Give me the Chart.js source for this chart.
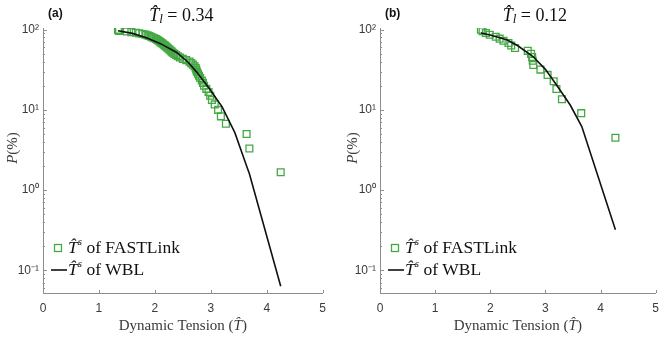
<!DOCTYPE html>
<html>
<head>
<meta charset="utf-8">
<script src="https://cdn.jsdelivr.net/npm/chart.js@4/dist/chart.umd.min.js"></script>
<style>
body { margin: 0; background: #fff; width: 667px; height: 337px; overflow: hidden; position: relative; }
canvas { position: absolute; top: 0; }
</style>
</head>
<body>
<canvas id="chartA" width="334" height="337" style="left:0"></canvas>
<canvas id="chartB" width="327" height="337" style="left:340px"></canvas>
<script>
// panel (a), T_l = 0.34 : FASTLink samples (tension, exceedance %)
const tensionA = [1.34, 1.35, 1.36, 1.50, 1.58, 1.66, 1.72, 1.78, 1.83, 1.87, 1.90, 1.93,
  1.96, 1.99, 2.02, 2.04, 2.06, 2.08, 2.10, 2.12, 2.14, 2.16, 2.18, 2.20,
  2.22, 2.24, 2.26, 2.28, 2.30, 2.32, 2.35, 2.38, 2.41, 2.45, 2.50, 2.56,
  2.62, 2.65, 2.68, 2.71, 2.73, 2.74, 2.75, 2.77, 2.79, 2.81, 2.84, 2.86,
  2.88, 2.92, 2.96, 2.99, 3.02, 3.07, 3.13, 3.18, 3.27, 3.64, 3.69, 4.25];
const probA = [100, 98.3, 96.7, 95, 93.3, 91.7, 90, 88.3, 86.7, 85, 83.3, 81.7,
  80, 78.3, 76.7, 75, 73.3, 71.7, 70, 68.3, 66.7, 65, 63.3, 61.7,
  60, 58.3, 56.7, 55, 53.3, 51.7, 50, 48.3, 46.7, 45, 43.3, 41.7,
  40, 38.3, 36.7, 35, 33.3, 31.7, 30, 28.3, 26.7, 25, 23.3, 21.7,
  20, 18.3, 16.7, 15, 13.3, 11.7, 10, 8.3, 6.7, 5, 3.3, 1.67];
// panel (a) WBL fit
const wblTensionA = [1.34, 1.60, 1.86, 2.10, 2.39, 2.60, 2.74, 2.96, 3.20, 3.43, 3.64, 3.69, 4.25];
const wblProbA = [97, 90, 79, 67, 52, 39, 30, 19, 11, 5.2, 2.0, 1.6, 0.063];

// panel (b), T_l = 0.12
const tensionB = [1.83, 1.86, 1.92, 1.99, 2.10, 2.17, 2.24, 2.33, 2.38, 2.45, 2.68,
  2.74, 2.76, 2.77, 2.78, 2.91, 3.04, 3.15, 3.20, 3.30, 3.65, 4.27];
const probB = [100, 95.5, 90.9, 86.4, 81.8, 77.3, 72.7, 68.2, 63.6, 59.1, 54.5,
  50, 45.5, 40.9, 36.4, 31.8, 27.3, 22.7, 18.2, 13.6, 9.1, 4.5];
const wblTensionB = [1.83, 2.00, 2.30, 2.50, 2.78, 3.00, 3.19, 3.45, 3.66, 4.27];
const wblProbB = [91, 86, 75, 63, 46, 32, 21, 11.5, 6.2, 0.32];

const xTicks = [0, 1, 2, 3, 4, 5];
const yTicks = [0.1, 1, 10, 100];
const yTickLabels = ['10⁻¹', '10⁰', '10¹', '10²'];

const axisGray = '#8c8c8c';
const textGray = '#3a3a3a';
const green = '#45a845';

// draw a run of text pieces with different fonts, centred or left aligned
function drawParts(ctx, parts, x, y, align) {
  let w = 0;
  parts.forEach(p => { ctx.font = p.font; w += ctx.measureText(p.t).width; });
  let cx = align === 'center' ? x - w / 2 : x;
  ctx.textBaseline = 'middle';
  ctx.textAlign = 'left';
  parts.forEach(p => {
    ctx.font = p.font;
    ctx.fillText(p.t, cx, y + (p.dy || 0));
    cx += ctx.measureText(p.t).width;
  });
}

const decor = {
  id: 'decor',
  afterDraw(chart, args, opts) {
    const { ctx, chartArea: a, scales: { x, y } } = chart;
    ctx.save();

    // inward tick marks
    ctx.strokeStyle = axisGray;
    ctx.lineWidth = 1;
    ctx.beginPath();
    xTicks.forEach(v => {
      const px = Math.round(x.getPixelForValue(v)) + 0.5;
      ctx.moveTo(px, a.bottom);
      ctx.lineTo(px, a.bottom - 3);
    });
    for (let e = -2; e <= 2; e++) {
      for (let k = 1; k < 10; k++) {
        const v = k * Math.pow(10, e);
        if (v < y.min || v > y.max) continue;
        const py = Math.round(y.getPixelForValue(v)) + 0.5;
        ctx.moveTo(a.left, py);
        ctx.lineTo(a.left + (k === 1 ? 4 : 2), py);
      }
    }
    ctx.stroke();

    ctx.fillStyle = '#111';
    // panel letter
    ctx.font = 'bold 12px "Liberation Sans"';
    ctx.textAlign = 'left';
    ctx.textBaseline = 'middle';
    ctx.fillText(opts.letter, a.left + 5, 14);

    // title
    const cx = (a.left + a.right) / 2 + opts.titleShift;
    drawParts(ctx, [
      { t: 'T̂', font: 'italic 18px "Liberation Serif"' },
      { t: 'l', font: 'italic 13px "Liberation Serif"', dy: 4 },
      { t: ' = ' + opts.tl, font: '18px "Liberation Serif"' }
    ], cx, 16, 'center');

    // axis titles
    ctx.fillStyle = textGray;
    drawParts(ctx, [
      { t: 'Dynamic Tension (', font: '15px "Liberation Serif"' },
      { t: 'T̂', font: 'italic 15px "Liberation Serif"' },
      { t: ')', font: '15px "Liberation Serif"' }
    ], (a.left + a.right) / 2, 326, 'center');
    ctx.save();
    ctx.translate(opts.yTitleX, 148);
    ctx.rotate(-Math.PI / 2);
    drawParts(ctx, [
      { t: 'P', font: 'italic 15px "Liberation Serif"' },
      { t: '(%)', font: '15px "Liberation Serif"' }
    ], 0, 0, 'center');
    ctx.restore();

    // legend
    const r1 = a.bottom - 45, r2 = a.bottom - 23;
    ctx.strokeStyle = green;
    ctx.lineWidth = 1.3;
    ctx.strokeRect(a.left + 15 - 3.5, r1 - 3.5, 7, 7);
    ctx.strokeStyle = '#111';
    ctx.lineWidth = 1.6;
    ctx.beginPath();
    ctx.moveTo(a.left + 8, r2);
    ctx.lineTo(a.left + 24, r2);
    ctx.stroke();
    ctx.fillStyle = '#111';
    drawParts(ctx, [
      { t: 'T̂', font: 'italic 17.5px "Liberation Serif"' },
      { t: 's', font: 'italic 11px "Liberation Serif"', dy: -6 },
      { t: ' of FASTLink', font: '17.5px "Liberation Serif"' }
    ], a.left + 25, r1, 'left');
    drawParts(ctx, [
      { t: 'T̂', font: 'italic 17.5px "Liberation Serif"' },
      { t: 's', font: 'italic 11px "Liberation Serif"', dy: -6 },
      { t: ' of WBL', font: '17.5px "Liberation Serif"' }
    ], a.left + 25, r2, 'left');

    ctx.restore();
  }
};

function makeChart(id, tension, prob, wblT, wblP, cfg) {
  return new Chart(document.getElementById(id), {
    type: 'scatter',
    data: {
      datasets: [
        {
          label: 'WBL',
          data: wblT.map((t, i) => ({ x: t, y: wblP[i] })),
          showLine: true,
          borderColor: '#111',
          borderWidth: 1.6,
          pointRadius: 0,
          order: 0
        },
        {
          label: 'FASTLink',
          data: tension.map((t, i) => ({ x: t, y: prob[i] })),
          pointStyle: 'rect',
          pointRadius: 4.8,
          pointBorderWidth: 1.3,
          borderColor: green,
          backgroundColor: 'rgba(0,0,0,0)',
          order: 1
        }
      ]
    },
    options: {
      responsive: false,
      animation: false,
      layout: { padding: { top: 28, right: cfg.padRight, left: 0, bottom: 0 } },
      plugins: {
        legend: { display: false },
        tooltip: { enabled: false },
        decor: cfg
      },
      scales: {
        x: {
          type: 'linear',
          min: 0,
          max: 5,
          grid: { display: false, drawTicks: false },
          border: { color: axisGray },
          ticks: { stepSize: 1, padding: 8, color: textGray, font: { family: 'Liberation Sans', size: 12 } },
          afterFit: s => { s.height = 44; }
        },
        y: {
          type: 'logarithmic',
          min: 0.052,
          max: 105,
          grid: { display: false, drawTicks: false },
          border: { color: axisGray },
          afterBuildTicks: s => { s.ticks = yTicks.map(v => ({ value: v })); },
          ticks: {
            autoSkip: false,
            padding: 4,
            color: textGray,
            font: { family: 'Liberation Sans', size: 12 },
            callback: (v) => {
              const i = yTicks.findIndex(t => Math.abs(t - v) < t * 1e-6);
              return i >= 0 ? yTickLabels[i] : '';
            }
          },
          afterFit: s => { s.width = cfg.yWidth; }
        }
      }
    },
    plugins: [decor]
  });
}

makeChart('chartA', tensionA, probA, wblTensionA, wblProbA,
  { letter: '(a)', tl: '0.34', titleShift: -1.5, yTitleX: 13, yWidth: 43, padRight: 4 });
makeChart('chartB', tensionB, probB, wblTensionB, wblProbB,
  { letter: '(b)', tl: '0.12', titleShift: 17, yTitleX: 13, yWidth: 40, padRight: 5 });
</script>
</body>
</html>
